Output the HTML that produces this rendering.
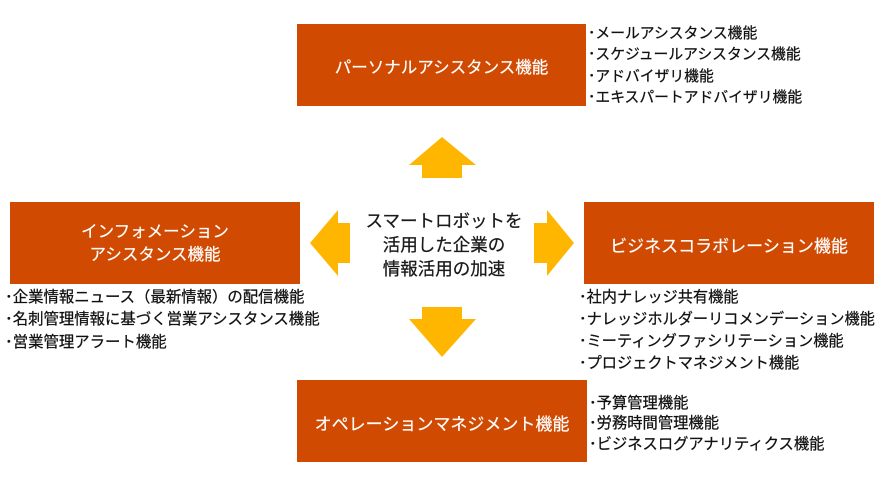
<!DOCTYPE html>
<html><head><meta charset="utf-8">
<style>
html,body{margin:0;padding:0;background:#fff;}
body{width:884px;height:486px;position:relative;overflow:hidden;font-family:"Liberation Sans","Noto Sans CJK JP",sans-serif;}
.box{position:absolute;background:#D04A02;color:#fff;display:flex;align-items:center;justify-content:center;text-align:center;white-space:nowrap;-webkit-text-stroke:0.2px #fff;}
.list{position:absolute;color:#111;white-space:nowrap;-webkit-text-stroke:0.25px #111;}
.ctr{position:absolute;color:#1a1a1a;text-align:center;white-space:nowrap;-webkit-text-stroke:0.25px #1a1a1a;}
svg{position:absolute;left:0;top:0;}
</style></head><body>
<svg width="884" height="486" viewBox="0 0 884 486">
<polygon fill="#FFB600" points="442,137 476,165 462,165 462,178 422,178 422,165 409,165"/>
<polygon fill="#FFB600" points="422,307 462,307 462,319 476,319 442,357 409,319 422,319"/>
<polygon fill="#FFB600" points="310,243 338,210 338,223 350,223 350,263 338,263 338,276"/>
<polygon fill="#FFB600" points="534,223 547,223 547,210 574,243 547,276 547,263 534,263"/>
</svg>

<div class="box" style="left:297px;top:24px;width:289px;height:82px;font-size:16.5px;padding-top:2px;box-sizing:border-box;">パーソナルアシスタンス機能</div>
<div class="box" style="left:10px;top:202px;width:290px;height:82px;font-size:16.5px;line-height:23px;padding-top:2px;box-sizing:border-box;">インフォメーション<br>アシスタンス機能</div>
<div class="box" style="left:584px;top:202px;width:290px;height:82px;font-size:17px;padding-top:2px;box-sizing:border-box;">ビジネスコラボレーション機能</div>
<div class="box" style="left:297px;top:380px;width:290px;height:82px;font-size:17px;padding-top:2px;box-sizing:border-box;">オペレーションマネジメント機能</div>

<div class="ctr" style="left:354px;top:208.5px;width:180px;font-size:17.5px;line-height:24px;">スマートロボットを<br>活用した企業の<br>情報活用の加速</div>

<div class="list" style="left:588px;top:24px;font-size:14.8px;line-height:21.3px;">･メールアシスタンス機能<br>･スケジュールアシスタンス機能<br>･アドバイザリ機能<br>･エキスパートアドバイザリ機能</div>

<div class="list" style="left:5px;top:287px;font-size:15.4px;line-height:22.4px;">･企業情報ニュース（最新情報）の配信機能<br>･名刺管理情報に基づく営業アシスタンス機能<br>･営業管理アラート機能</div>

<div class="list" style="left:579px;top:287px;font-size:15.2px;line-height:22px;">･社内ナレッジ共有機能<br>･ナレッジホルダーリコメンデーション機能<br>･ミーティングファシリテーション機能<br>･プロジェクトマネジメント機能</div>

<div class="list" style="left:589px;top:393.5px;font-size:15.3px;line-height:20.6px;">･予算管理機能<br>･労務時間管理機能<br>･ビジネスログアナリティクス機能</div>
</body></html>
